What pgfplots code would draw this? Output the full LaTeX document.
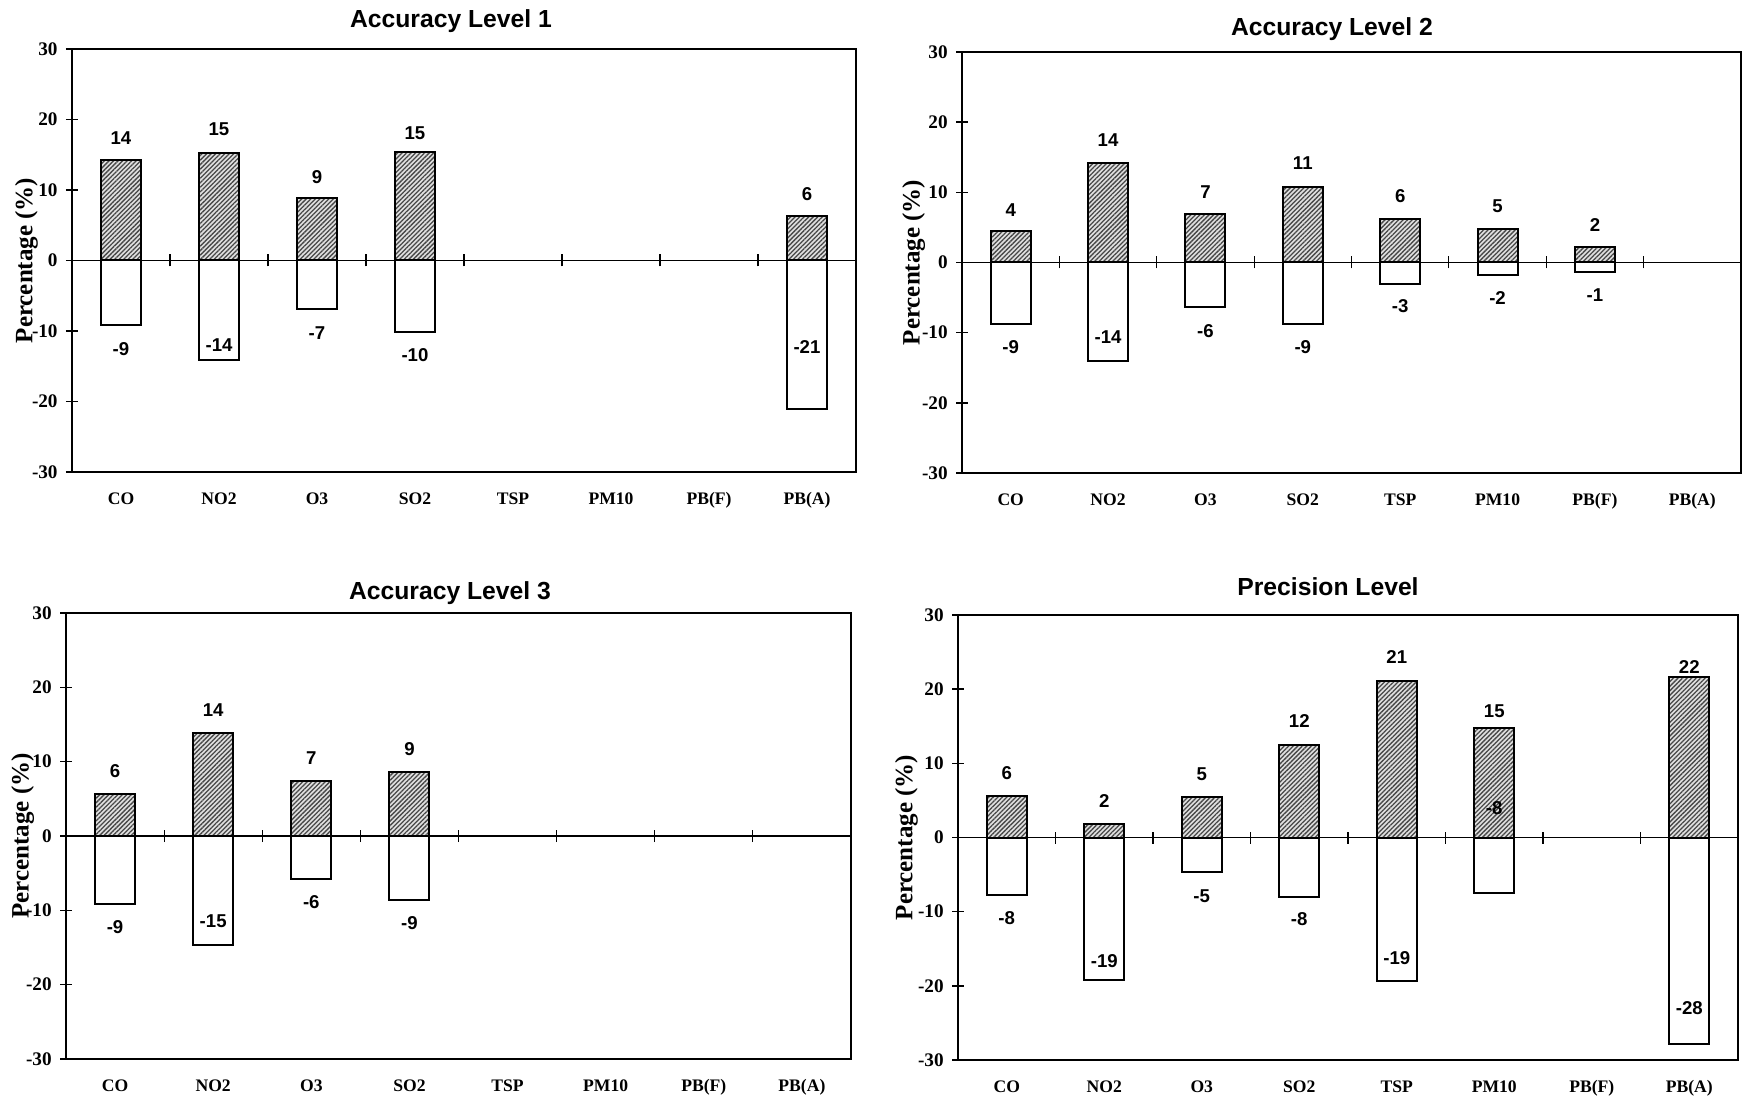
\documentclass[border=0pt]{standalone}
\usepackage{fontspec}
\setmainfont{Liberation Serif}
\newfontfamily\arialf{Liberation Sans}
\usepackage{pgfplots}
\pgfplotsset{compat=1.18}
\usetikzlibrary{patterns.meta}

\pgfplotsset{
  panel/.style={
    scale only axis, anchor=south west,
    xmin=-0.5, xmax=7.5, ymin=-30, ymax=30,
    ytick={-30,-20,-10,0,10,20,30},
    yticklabels={-30,-20,-10,0,10,20,30},
    xtick={0,1,2,3,4,5,6,7},
    xticklabels={CO,NO2,O3,SO2,TSP,PM10,PB(F),PB(A)},
    xtick style={draw=none},
    ytick style={line width=0.7pt, black},
    ytick pos=left,
    tick align=center,
    major tick length=6pt,
    axis line style={line width=0.75pt},
    yticklabel style={font=\fontsize{9.6}{10}\selectfont\bfseries, anchor=east, inner sep=0pt, xshift=-4pt},
    xticklabel style={font=\fontsize{8.8}{10}\selectfont\bfseries, anchor=base, inner sep=0pt, yshift=-13.2pt},
    ylabel={Percentage (\%)},
    ylabel style={font=\fontsize{12.5}{12.5}\selectfont\bfseries, anchor=center},
    clip=false,
  },
  barP/.style={ybar, bar width=20pt, bar shift=0pt, draw=black, line width=1pt,
    preaction={fill=black!12},
    pattern={Lines[angle=45,distance=1.6pt,line width=0.65pt]}, pattern color=black!72},
  barN/.style={ybar, bar width=20pt, bar shift=0pt, draw=black, fill=white, line width=1pt},
}
\tikzset{
  blabel/.style={font=\arialf\bfseries\fontsize{9.3}{10}\selectfont, inner sep=0pt, anchor=center},
  ptitle/.style={font=\arialf\bfseries\fontsize{12.35}{13}\selectfont, inner sep=0pt, anchor=base},
}
\newcommand\zeroline{%
  \draw[line width=0.6pt] (axis cs:-0.5,0) -- (axis cs:7.5,0);
  \pgfplotsinvokeforeach{0.5,1.5,2.5,3.5,4.5,5.5,6.5}{\draw[line width=0.6pt] ([yshift=-3pt]axis cs:##1,0) -- ([yshift=3pt]axis cs:##1,0);}%
}

\begin{document}
\begin{tikzpicture}
\useasboundingbox (0,0) rectangle (872pt,549pt);

% ---------------- Accuracy Level 1
\begin{axis}[panel, at={(36pt,313pt)}, width=392pt, height=211.5pt,
  ylabel style={at={(axis description cs:-0.058,0.5)}}]
\addplot[barP] coordinates {(0,14.2) (1,15.2) (2,8.9) (3,15.4) (7,6.3)};
\addplot[barN] coordinates {(0,-9.1) (1,-14.1) (2,-6.9) (3,-10.1) (7,-21.0)};
\zeroline
\node[blabel] at (axis cs:0,17.4) {14};
\node[blabel] at (axis cs:1,18.6) {15};
\node[blabel] at (axis cs:2,11.9) {9};
\node[blabel] at (axis cs:3,18.0) {15};
\node[blabel] at (axis cs:7,9.4) {6};
\node[blabel] at (axis cs:0,-12.5) {-9};
\node[blabel] at (axis cs:1,-12.0) {-14};
\node[blabel] at (axis cs:2,-10.3) {-7};
\node[blabel] at (axis cs:3,-13.4) {-10};
\node[blabel] at (axis cs:7,-12.2) {-21};
\end{axis}
\node[ptitle] at (225.5pt,535pt) {Accuracy Level 1};

% ---------------- Accuracy Level 2
\begin{axis}[panel, at={(481pt,312.5pt)}, width=389.5pt, height=210.5pt,
  ylabel style={at={(axis description cs:-0.062,0.5)}}]
\addplot[barP] coordinates {(0,4.45) (1,14.2) (2,6.95) (3,10.7) (4,6.25) (5,4.8) (6,2.2)};
\addplot[barN] coordinates {(0,-8.7) (1,-14.0) (2,-6.4) (3,-8.7) (4,-3.0) (5,-1.8) (6,-1.3)};
\zeroline
\node[blabel] at (axis cs:0,7.5) {4};
\node[blabel] at (axis cs:1,17.5) {14};
\node[blabel] at (axis cs:2,10.0) {7};
\node[blabel] at (axis cs:3,14.1) {11};
\node[blabel] at (axis cs:4,9.5) {6};
\node[blabel] at (axis cs:5,8.0) {5};
\node[blabel] at (axis cs:6,5.3) {2};
\node[blabel] at (axis cs:0,-12.1) {-9};
\node[blabel] at (axis cs:1,-10.6) {-14};
\node[blabel] at (axis cs:2,-9.8) {-6};
\node[blabel] at (axis cs:3,-12.0) {-9};
\node[blabel] at (axis cs:4,-6.2) {-3};
\node[blabel] at (axis cs:5,-5.0) {-2};
\node[blabel] at (axis cs:6,-4.6) {-1};
\end{axis}
\node[ptitle] at (666pt,531pt) {Accuracy Level 2};

% ---------------- Accuracy Level 3
\begin{axis}[panel, at={(33pt,19.5pt)}, width=392.5pt, height=223pt,
  ylabel style={at={(axis description cs:-0.055,0.5)}}]
\addplot[barP] coordinates {(0,5.7) (1,13.9) (2,7.35) (3,8.55)};
\addplot[barN] coordinates {(0,-9.1) (1,-14.6) (2,-5.8) (3,-8.6)};
\zeroline
\node[blabel] at (axis cs:0,8.7) {6};
\node[blabel] at (axis cs:1,17.0) {14};
\node[blabel] at (axis cs:2,10.5) {7};
\node[blabel] at (axis cs:3,11.7) {9};
\node[blabel] at (axis cs:0,-12.2) {-9};
\node[blabel] at (axis cs:1,-11.4) {-15};
\node[blabel] at (axis cs:2,-8.9) {-6};
\node[blabel] at (axis cs:3,-11.7) {-9};
\end{axis}
\node[ptitle] at (225pt,249pt) {Accuracy Level 3};

% ---------------- Precision Level
\begin{axis}[panel, at={(479pt,19pt)}, width=390pt, height=222.5pt,
  ylabel style={at={(axis description cs:-0.066,0.5)}}]
\addplot[barP] coordinates {(0,5.55) (1,1.85) (2,5.45) (3,12.5) (4,21.15) (5,14.8) (7,21.7)};
\addplot[barN] coordinates {(0,-7.7) (1,-19.2) (2,-4.7) (3,-8.0) (4,-19.4) (5,-7.5) (7,-27.8)};
\zeroline
\node[blabel] at (axis cs:0,8.7) {6};
\node[blabel] at (axis cs:1,4.9) {2};
\node[blabel] at (axis cs:2,8.5) {5};
\node[blabel] at (axis cs:3,15.65) {12};
\node[blabel] at (axis cs:4,24.3) {21};
\node[blabel] at (axis cs:5,17.0) {15};
\node[blabel] at (axis cs:7,23.0) {22};
\node[blabel] at (axis cs:0,-10.9) {-8};
\node[blabel] at (axis cs:1,-16.6) {-19};
\node[blabel] at (axis cs:2,-7.9) {-5};
\node[blabel] at (axis cs:3,-11.0) {-8};
\node[blabel] at (axis cs:4,-16.3) {-19};
\node[blabel] at (axis cs:5,4.0) {-8};
\node[blabel] at (axis cs:7,-23.0) {-28};
\end{axis}
\node[ptitle] at (664pt,251pt) {Precision Level};
\end{tikzpicture}
\end{document}
